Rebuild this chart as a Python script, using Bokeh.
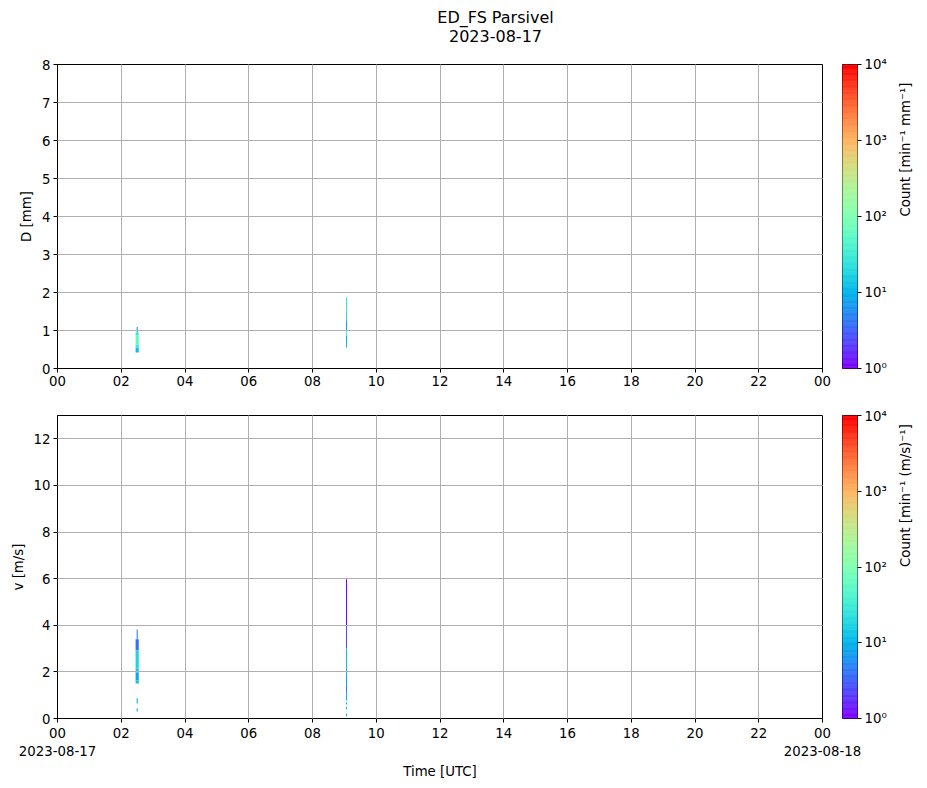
import math
from bokeh.plotting import figure
from bokeh.models import (LogColorMapper, FixedTicker, Range1d, ColumnDataSource)
from bokeh.core.properties import value
from bokeh.transform import transform
from bokeh.layouts import column, row
from bokeh.embed import file_html
from bokeh.resources import INLINE

# ---------------- data ----------------
TITLE = "ED_FS Parsivel"
DATE = "2023-08-17"
NEXT_DATE = "2023-08-18"

x_ticks = [0, 2, 4, 6, 8, 10, 12, 14, 16, 18, 20, 22, 24]
x_tick_labels = ["00", "02", "04", "06", "08", "10", "12", "14", "16", "18", "20", "22", "00"]
d_ticks = [0, 1, 2, 3, 4, 5, 6, 7, 8]
v_ticks = [0, 2, 4, 6, 8, 10, 12]
d_max = 8
v_max = 13
cb_ticks = [1, 10, 100, 1000, 10000]
cb_tick_labels = ["10\u2070", "10\u00b9", "10\u00b2", "10\u00b3", "10\u2074"]
count_low, count_high = 1, 1e4

# drop size spectrum (time start, time end, D low, D high, count)
d_start = ["02:27", "02:27", "02:27", "02:27", "02:27", "02:29",
           "09:03", "09:03", "09:03", "09:03", "09:03", "09:03"]
d_end = ["02:33", "02:33", "02:33", "02:33", "02:33", "02:31",
         "09:05", "09:05", "09:05", "09:05", "09:05", "09:05"]
d_low = [0.42, 0.55, 0.625, 0.75, 0.875, 0.95,
         0.55, 0.75, 0.875, 1.0, 1.25, 1.5]
d_high = [0.55, 0.625, 0.75, 0.875, 0.95, 1.09,
          0.75, 0.875, 1.0, 1.25, 1.5, 1.87]
d_count = [12, 30, 55, 60, 28, 6,
           12, 10, 40, 8, 20, 25]

# velocity spectrum (time start, time end, v low, v high, count)
v_start = ["02:29", "02:27", "02:27", "02:27", "02:27", "02:27", "02:29", "02:29",
           "09:03", "09:03", "09:03", "09:03", "09:03", "09:03", "09:03", "09:03", "09:03"]
v_end = ["02:31", "02:33", "02:33", "02:33", "02:33", "02:33", "02:31", "02:31",
         "09:05", "09:05", "09:05", "09:05", "09:05", "09:05", "09:05", "09:05", "09:05"]
v_low = [3.4, 2.92, 2.15, 1.97, 1.63, 1.5, 0.64, 0.3,
         4.0, 3.0, 1.93, 1.4, 1.1, 0.77, 0.6, 0.4, 0.1]
v_high = [3.82, 3.4, 2.92, 2.15, 1.97, 1.63, 0.87, 0.44,
          5.97, 4.0, 3.0, 1.93, 1.4, 1.1, 0.7, 0.5, 0.2]
v_count = [5, 4, 18, 14, 8, 12, 8, 10,
           1, 2.5, 12, 8, 4, 10, 10, 10, 10]

# ---------------- style ----------------
FONT = "DejaVu Sans"
FS = "13.3px"


def rainbow(n=256):
    out = []
    for i in range(n):
        x = i / (n - 1)
        r = min(1.0, max(0.0, abs(2 * x - 0.5)))
        g = min(1.0, max(0.0, math.sin(math.pi * x)))
        b = min(1.0, max(0.0, math.cos(math.pi * x / 2)))
        out.append("#%02x%02x%02x" % (round(r * 255), round(g * 255), round(b * 255)))
    return out


PALETTE = rainbow()
mapper = LogColorMapper(palette=PALETTE, low=count_low, high=count_high)


def hours(s):
    h, m = s.split(":")
    return int(h) + int(m) / 60.0


def style_axis(ax):
    ax.major_label_text_font = FONT
    ax.major_label_text_font_size = FS
    ax.major_label_text_color = "black"
    ax.axis_label_text_font = FONT
    ax.axis_label_text_font_size = FS
    ax.axis_label_text_font_style = "normal"
    ax.axis_label_text_color = "black"
    ax.major_tick_in = 0
    ax.major_tick_out = 4
    ax.minor_tick_in = 0
    ax.minor_tick_out = 0
    ax.major_tick_line_color = "black"
    ax.major_tick_line_width = 1
    ax.axis_line_color = "black"
    ax.major_label_standoff = 3


LEFT_B = 57
FRAME_W = 765
GAP = 20
CB_W = 81
OVERLAP = 24


def main_panel(starts, ends, lows, highs, counts, y_max, y_ticks, ylabel,
               height, b_top, b_bottom, right_b, bottom_labels, xlabel):
    p = figure(width=LEFT_B + FRAME_W + right_b, height=height,
               x_range=Range1d(0, 24), y_range=Range1d(0, y_max),
               toolbar_location=None, output_backend="svg", title=None,
               min_border_left=LEFT_B, min_border_right=right_b,
               min_border_top=b_top, min_border_bottom=b_bottom)
    src = ColumnDataSource(dict(l=[hours(s) for s in starts], r=[hours(e) for e in ends],
                                b=lows, t=highs, n=counts))
    p.quad(left="l", right="r", bottom="b", top="t", source=src,
           fill_color=transform("n", mapper), line_color=None)
    p.xaxis.ticker = FixedTicker(ticks=x_ticks)
    p.xaxis.major_label_overrides = dict(zip(x_ticks, bottom_labels))
    p.yaxis.ticker = FixedTicker(ticks=y_ticks)
    p.yaxis.axis_label = ylabel
    style_axis(p.xaxis)
    style_axis(p.yaxis)
    if xlabel:
        p.xaxis.axis_label = xlabel
        p.xaxis.axis_label_standoff = 2
    p.grid.grid_line_color = "#b0b0b0"
    p.grid.grid_line_width = 1
    p.grid.level = "annotation"
    p.outline_line_color = "black"
    p.outline_line_alpha = 1
    p.outline_line_width = 1
    p.background_fill_color = "white"
    return p


def colorbar_panel(label, height, b_top, b_bottom):
    c = figure(width=CB_W, height=height, x_range=Range1d(0, 1), y_range=Range1d(count_low, count_high),
               y_axis_type="log", y_axis_location="right", toolbar_location=None,
               output_backend="svg", title=None,
               min_border_left=0, min_border_right=CB_W - 16, min_border_top=b_top,
               min_border_bottom=b_bottom)
    n = len(PALETTE)
    lg0, lg1 = math.log10(count_low), math.log10(count_high)
    bots = [10 ** (lg0 + (lg1 - lg0) * i / n) for i in range(n)]
    tops = [10 ** (lg0 + (lg1 - lg0) * (i + 1) / n) for i in range(n)]
    c.quad(left=0, right=1, bottom=bots, top=tops, fill_color=PALETTE,
           line_color=PALETTE, line_width=0.6)
    c.xaxis.visible = False
    c.grid.visible = False
    c.yaxis.ticker = FixedTicker(ticks=cb_ticks)
    c.yaxis.major_label_overrides = dict(zip(cb_ticks, cb_tick_labels))
    c.yaxis.axis_label = label
    style_axis(c.yaxis)
    c.yaxis.axis_line_color = None
    c.yaxis.axis_label_standoff = 16
    if hasattr(c.yaxis, "axis_label_orientation"):
        c.yaxis.axis_label_orientation = math.pi / 2
    c.outline_line_color = "black"
    c.outline_line_alpha = 1
    return c


# title strip
TITLE_H = 56
TOTAL_W = LEFT_B + FRAME_W + GAP + CB_W
tf = figure(width=TOTAL_W, height=TITLE_H, x_range=Range1d(0, TOTAL_W),
            y_range=Range1d(0, TITLE_H), x_axis_location=None, y_axis_location=None,
            toolbar_location=None, output_backend="svg", title=None, min_border=0)
tf.outline_line_color = None
tf.grid.visible = False
tf.text(x=[495, 495], y=[TITLE_H - 17, TITLE_H - 35], text=[TITLE, DATE],
        text_align="center", text_baseline="middle", text_font=value(FONT),
        text_font_size=value("16px"), text_color="black")

p1 = main_panel(d_start, d_end, d_low, d_high, d_count, d_max, d_ticks, "D [mm]",
                8 + 304 + 40, 8, 40, GAP, x_tick_labels, None)

bottom_labels = list(x_tick_labels)
bottom_labels[0] = "00\n" + DATE
bottom_labels[-1] = "00\n" + NEXT_DATE
p2 = main_panel(v_start, v_end, v_low, v_high, v_count, v_max, v_ticks, "v [m/s]",
                7 + 303 + 66, 7, 66, GAP + OVERLAP, bottom_labels, "Time [UTC]")

c1 = colorbar_panel("Count [min\u207b\u00b9 mm\u207b\u00b9]", 8 + 304 + 40, 8, 40)
c2 = colorbar_panel("Count [min\u207b\u00b9 (m/s)\u207b\u00b9]", 7 + 303 + 66, 7, 66)
# let the second colour bar overlap the empty right border of the lower panel
c2.margin = (0, 0, 0, -OVERLAP)
c2.border_fill_alpha = 0
c2.background_fill_alpha = 0

layout = column(tf, row(p1, c1), row(p2, c2))
open("out.html", "w").write(file_html(layout, INLINE))
